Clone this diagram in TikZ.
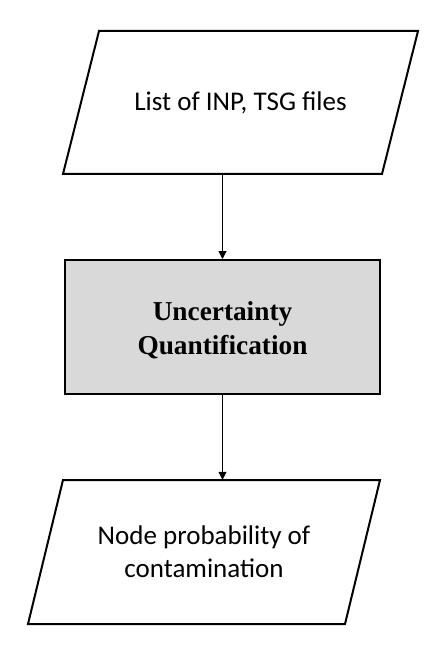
\documentclass[tikz,border=0pt]{standalone}
\usepackage{fontspec}
\setmainfont{Carlito}
\newfontfamily\boldserif{Liberation Serif}
\usetikzlibrary{arrows.meta}
\definecolor{boxgray}{HTML}{D9D9D9}
\begin{document}
\begin{tikzpicture}[x=1pt,y=-1pt,
  shapeline/.style={line width=2pt,line join=miter},
  conn/.style={line width=1pt,-{Triangle[width=8pt,length=8pt]}},
  sanslabel/.style={font=\fontsize{27}{33}\selectfont,align=center,inner sep=0pt},
  seriflabel/.style={font=\boldserif\bfseries\fontsize{27.3}{34}\selectfont,align=center,inner sep=0pt},
  anchorbox/.style={inner sep=0pt,minimum width=1pt}]
\useasboundingbox (0,0) rectangle (442,668);
% top parallelogram
\draw[shapeline,fill=white] (99,31) -- (418,31) -- (382,174) -- (63,174) -- cycle;
\node[anchorbox,minimum height=143pt] (inbox) at (222.5,102.5) {};
\node[sanslabel] (intext) at (240.5,102.5) {List of INP, TSG files};
% rectangle
\node[shapeline,draw,fill=boxgray,minimum width=315pt,minimum height=134pt,inner sep=0pt] (uq) at (222.5,327) {};
\node[seriflabel] (uqtext) at (222.5,330) {Uncertainty\\Quantification};
% bottom parallelogram
\draw[shapeline,fill=white] (63,480) -- (380,480) -- (345,624) -- (28,624) -- cycle;
\node[anchorbox,minimum height=144pt] (outbox) at (222.5,552) {};
\node[sanslabel] (outtext) at (204,552) {Node probability of\\contamination};
% connectors
\draw[conn] (inbox.south) -- (uq.north);
\draw[conn] (uq.south) -- (outbox.north);
\end{tikzpicture}
\end{document}
